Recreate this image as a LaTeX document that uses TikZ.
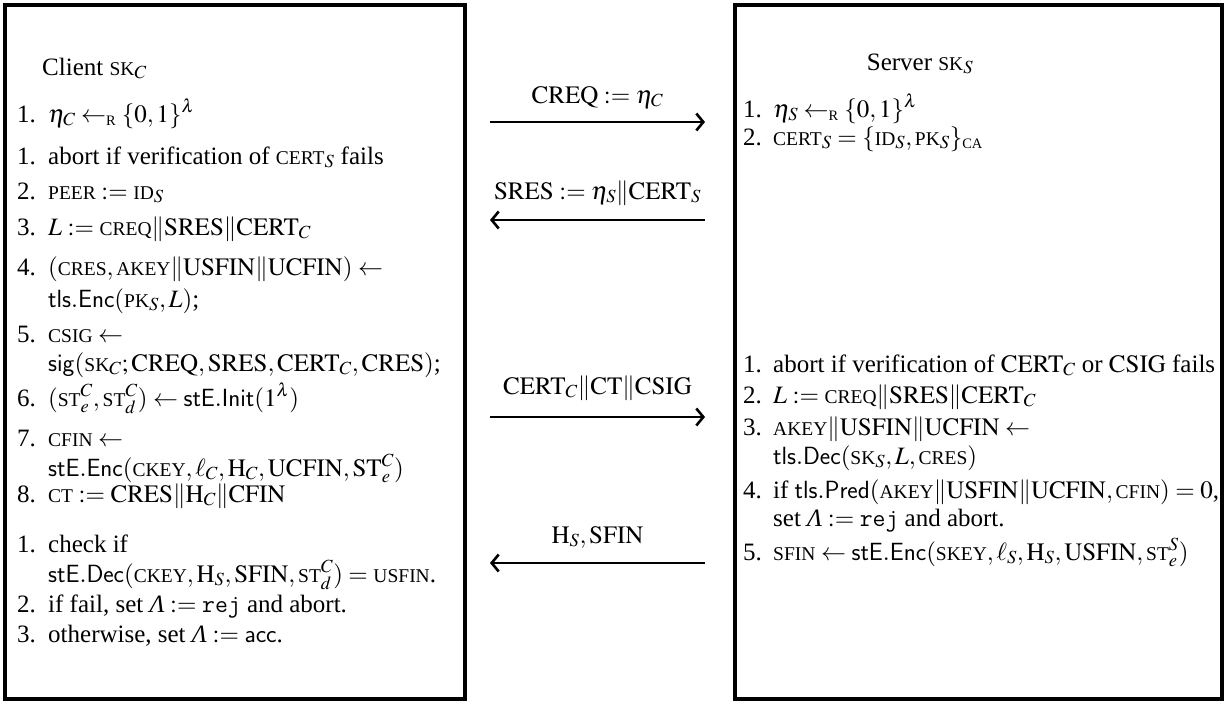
\documentclass[tikz,border=0pt]{standalone}
\usepackage{amsmath}
\usepackage{mathptmx}
\usepackage{fontspec}
\setmainfont{Liberation Serif}
\usepackage{tikz}
\usetikzlibrary{arrows.meta}

\newcommand{\smc}[1]{\textup{\scalebox{0.78}{#1}}}
\newcommand{\alg}[1]{\mathsf{#1}}
\newcommand{\lam}{\textit{Λ}}

\begin{document}
\begin{tikzpicture}[
    x=1pt, y=-1pt,
    every node/.style={font=\fontsize{25}{30}\selectfont, inner sep=0pt},
    party/.style={draw, line width=3.5pt, minimum height=694pt},
    num/.style={anchor=base west},
    txt/.style={anchor=base west},
    msg/.style={line width=2.6pt, -{Straight Barb[length=7pt, width=17pt]}},
    lbl/.style={anchor=base}
]
\useasboundingbox (0,0) rectangle (1228,704);

% Party boxes
\node[party, minimum width=460pt] (client) at (235,352) {};
\node[party, minimum width=487pt] (server) at (978.5,352) {};

% Client side
\node[txt] (ctitle) at (42,75) {Client $\smc{SK}_C$};
\node[num] (cn1) at (17,122) {1.};
\node[txt] (c1) at (48,122) {$\eta_C \leftarrow_{\smc{R}} \{0,1\}^\lambda$};
\node[num] (cn2) at (17,164) {1.};
\node[txt] (c2) at (48,164) {abort if verification of $\smc{CERT}_S$ fails};
\node[num] (cn3) at (17,199) {2.};
\node[txt] (c3) at (48,199) {$\smc{PEER} := \smc{ID}_S$};
\node[num] (cn4) at (17,235) {3.};
\node[txt] (c4) at (48,235) {$L := \smc{CREQ}\|\mathrm{SRES}\|\mathrm{CERT}_C$};
\node[num] (cn5) at (17,275) {4.};
\node[txt] (c5) at (48,275) {$(\smc{CRES}, \smc{AKEY}\|\mathrm{USFIN}\|\mathrm{UCFIN}) \leftarrow$};
\node[txt] (c5b) at (48,307) {$\alg{tls.Enc}(\smc{PK}_S, L)$;};
\node[num] (cn6) at (17,342) {5.};
\node[txt] (c6) at (48,342) {$\smc{CSIG} \leftarrow$};
\node[txt] (c6b) at (48,371) {$\alg{sig}(\smc{SK}_C; \mathrm{CREQ}, \mathrm{SRES}, \mathrm{CERT}_C, \mathrm{CRES})$;};
\node[num] (cn7) at (17,406) {6.};
\node[txt] (c7) at (48,406) {$(\smc{ST}^C_e, \smc{ST}^C_d) \leftarrow \alg{stE.Init}(1^\lambda)$};
\node[num] (cn8) at (17,446) {7.};
\node[txt] (c8) at (48,446) {$\smc{CFIN} \leftarrow$};
\node[txt] (c8b) at (48,476) {$\alg{stE.Enc}(\smc{CKEY}, \ell_C, \mathrm{H}_C, \mathrm{UCFIN}, \mathrm{ST}^C_e)$};
\node[num] (cn9) at (17,502) {8.};
\node[txt] (c9) at (48,502) {$\smc{CT} := \mathrm{CRES}\|\mathrm{H}_C\|\mathrm{CFIN}$};
\node[num] (cn10) at (17,552) {1.};
\node[txt] (c10) at (48,552) {check if};
\node[txt] (c10b) at (48,582) {$\alg{stE.Dec}(\smc{CKEY}, \mathrm{H}_S, \mathrm{SFIN}, \smc{ST}^C_d) = \smc{USFIN}$.};
\node[num] (cn11) at (17,612) {2.};
\node[txt] (c11) at (48,612) {if fail, set $\lam := \texttt{rej}$ and abort.};
\node[num] (cn12) at (17,642) {3.};
\node[txt] (c12) at (48,642) {otherwise, set $\lam := \textsf{acc}$.};

% Server side
\node[lbl] (stitle) at (920,70) {Server $\smc{SK}_S$};
\node[num] (sn1) at (743,117) {1.};
\node[txt] (s1) at (773,117) {$\eta_S \leftarrow_{\smc{R}} \{0,1\}^\lambda$};
\node[num] (sn2) at (743,145) {2.};
\node[txt] (s2) at (773,145) {$\smc{CERT}_S = \{\smc{ID}_S, \smc{PK}_S\}_{\smc{CA}}$};
\node[num] (sn3) at (743,372) {1.};
\node[txt] (s3) at (773,372) {abort if verification of $\mathrm{CERT}_C$ or $\mathrm{CSIG}$ fails};
\node[num] (sn4) at (743,403) {2.};
\node[txt] (s4) at (773,403) {$L := \smc{CREQ}\|\mathrm{SRES}\|\mathrm{CERT}_C$};
\node[num] (sn5) at (743,435) {3.};
\node[txt] (s5) at (773,435) {$\smc{AKEY}\|\mathrm{USFIN}\|\mathrm{UCFIN} \leftarrow$};
\node[txt] (s5b) at (773,464) {$\alg{tls.Dec}(\smc{SK}_S, L, \smc{CRES})$};
\node[num] (sn6) at (743,498) {4.};
\node[txt] (s6) at (773,498) {if $\alg{tls.Pred}(\smc{AKEY}\|\mathrm{USFIN}\|\mathrm{UCFIN}, \smc{CFIN}) = 0$,};
\node[txt] (s6b) at (773,526) {set $\lam := \texttt{rej}$ and abort.};
\node[num] (sn7) at (743,560) {5.};
\node[txt] (s7) at (773,560) {$\smc{SFIN} \leftarrow \alg{stE.Enc}(\smc{SKEY}, \ell_S, \mathrm{H}_S, \mathrm{USFIN}, \smc{ST}^S_e)$};

% Messages
\coordinate (m1c) at (490,122);
\coordinate (m1s) at (705,122);
\coordinate (m2c) at (490,220);
\coordinate (m2s) at (705,220);
\coordinate (m3c) at (490,417);
\coordinate (m3s) at (705,417);
\coordinate (m4c) at (490,563);
\coordinate (m4s) at (705,563);

\draw[msg] (m1c) -- (m1s);
\draw[msg] (m2s) -- (m2c);
\draw[msg] (m3c) -- (m3s);
\draw[msg] (m4s) -- (m4c);

\node[lbl] (l1) at (597.5,103) {$\mathrm{CREQ} := \eta_C$};
\node[lbl] (l2) at (597.5,199) {$\mathrm{SRES} := \eta_S\|\mathrm{CERT}_S$};
\node[lbl] (l3) at (597.5,394) {$\mathrm{CERT}_C\|\mathrm{CT}\|\mathrm{CSIG}$};
\node[lbl] (l4) at (597.5,543) {$\mathrm{H}_S, \mathrm{SFIN}$};
\end{tikzpicture}
\end{document}
